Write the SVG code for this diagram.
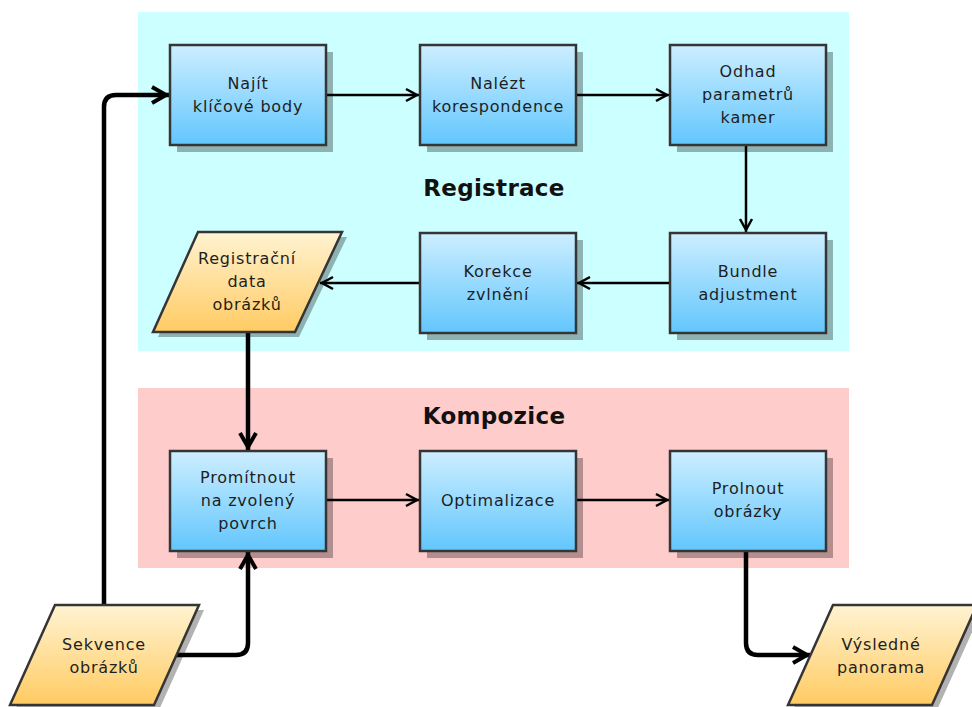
<svg xmlns="http://www.w3.org/2000/svg" width="972" height="707" viewBox="0 0 972 707">
<style>
.box{stroke:#353535;stroke-width:2.5;fill:url(#gb)}
.io{stroke:#353535;stroke-width:2.5;fill:url(#gy)}
.sh{fill:#000;fill-opacity:0.3}
.t{font-family:"DejaVu Sans","Liberation Sans",sans-serif;font-size:16px;letter-spacing:0.8px;fill:#1e1e1e;text-anchor:middle}
.h{font-family:"DejaVu Sans","Liberation Sans",sans-serif;font-size:23px;font-weight:bold;fill:#111;text-anchor:middle;letter-spacing:0.3px}
.c{fill:none;stroke:#000;stroke-width:2.5}
.ct{fill:none;stroke:#000;stroke-width:4.5}
</style>
<defs>
<linearGradient id="gb" x1="0" y1="0" x2="0" y2="1">
<stop offset="0" stop-color="#cdeeff"/>
<stop offset="1" stop-color="#62c6fd"/>
</linearGradient>
<linearGradient id="gy" x1="0" y1="0" x2="0" y2="1">
<stop offset="0" stop-color="#fff3d2"/>
<stop offset="1" stop-color="#ffcb62"/>
</linearGradient>
<marker id="ah" viewBox="-16 -10 22 20" refX="2" refY="0" markerWidth="22" markerHeight="20" orient="auto" markerUnits="userSpaceOnUse" overflow="visible">
<path d="M-11,-6 L0,0 L-11,6" fill="none" stroke="#000" stroke-width="2.5"/>
</marker>
<marker id="ahb" viewBox="-20 -12 28 24" refX="3" refY="0" markerWidth="28" markerHeight="24" orient="auto" markerUnits="userSpaceOnUse" overflow="visible">
<path d="M-14,-8 L0,0 L-14,8" fill="none" stroke="#000" stroke-width="4"/>
</marker>
</defs>
<rect width="972" height="707" fill="#fff"/>
<g id="groups">
<rect x="138" y="12" width="711" height="339" fill="#ccffff"/>
<rect x="138" y="388" width="711" height="180" fill="#ffcccc"/>
<text class="h" x="494" y="196">Registrace</text>
<text class="h" x="494" y="424">Kompozice</text>
</g>
<g id="connectors">
<path class="ct" d="M104 605 V107 Q104 95 116 95 H169" marker-end="url(#ahb)"/>
<path class="ct" d="M176 655 H236 Q248 655 248 643 V552" marker-end="url(#ahb)"/>
<path class="ct" d="M248 332 V450" marker-end="url(#ahb)"/>
<path class="ct" d="M746 551 V643 Q746 655 758 655 H810" marker-end="url(#ahb)"/>
<path class="c" d="M326 95 H419" marker-end="url(#ah)"/>
<path class="c" d="M576 95 H669" marker-end="url(#ah)"/>
<path class="c" d="M746 145 V232" marker-end="url(#ah)"/>
<path class="c" d="M670 283 H577" marker-end="url(#ah)"/>
<path class="c" d="M420 283 H320" marker-end="url(#ah)"/>
<path class="c" d="M326 500 H419" marker-end="url(#ah)"/>
<path class="c" d="M576 500 H669" marker-end="url(#ah)"/>
</g>
<g id="najit">
<rect class="sh" x="177" y="52" width="156" height="100"/>
<rect class="box" x="170" y="45" width="156" height="100"/>
<text class="t" x="248" y="89">Najít</text>
<text class="t" x="248" y="112">klíčové body</text>
</g>
<g id="nalezt">
<rect class="sh" x="427" y="52" width="156" height="100"/>
<rect class="box" x="420" y="45" width="156" height="100"/>
<text class="t" x="498" y="89">Nalézt</text>
<text class="t" x="498" y="112">korespondence</text>
</g>
<g id="odhad">
<rect class="sh" x="677" y="52" width="156" height="100"/>
<rect class="box" x="670" y="45" width="156" height="100"/>
<text class="t" x="748" y="77">Odhad</text>
<text class="t" x="748" y="100">parametrů</text>
<text class="t" x="748" y="123">kamer</text>
</g>
<g id="bundle">
<rect class="sh" x="677" y="240" width="156" height="100"/>
<rect class="box" x="670" y="233" width="156" height="100"/>
<text class="t" x="748" y="277">Bundle</text>
<text class="t" x="748" y="300">adjustment</text>
</g>
<g id="korekce">
<rect class="sh" x="427" y="240" width="156" height="100"/>
<rect class="box" x="420" y="233" width="156" height="100"/>
<text class="t" x="498" y="277">Korekce</text>
<text class="t" x="498" y="300">zvlnění</text>
</g>
<g id="registracni-data">
<polygon class="sh" points="203,237 347,237 299,337 158,337"/>
<polygon class="io" points="198,232 342,232 295,332 153,332"/>
<text class="t" x="247" y="264">Registrační</text>
<text class="t" x="247" y="287">data</text>
<text class="t" x="247" y="310">obrázků</text>
</g>
<g id="promitnout">
<rect class="sh" x="177" y="458" width="156" height="100"/>
<rect class="box" x="170" y="451" width="156" height="100"/>
<text class="t" x="248" y="483">Promítnout</text>
<text class="t" x="248" y="506">na zvolený</text>
<text class="t" x="248" y="529">povrch</text>
</g>
<g id="optimalizace">
<rect class="sh" x="427" y="458" width="156" height="100"/>
<rect class="box" x="420" y="451" width="156" height="100"/>
<text class="t" x="498" y="506">Optimalizace</text>
</g>
<g id="prolnout">
<rect class="sh" x="677" y="458" width="156" height="100"/>
<rect class="box" x="670" y="451" width="156" height="100"/>
<text class="t" x="748" y="494">Prolnout</text>
<text class="t" x="748" y="517">obrázky</text>
</g>
<g id="sekvence">
<polygon class="sh" points="60,610 204,610 159,710 15,710"/>
<polygon class="io" points="55,605 199,605 154,705 10,705"/>
<text class="t" x="104" y="650">Sekvence</text>
<text class="t" x="104" y="673">obrázků</text>
</g>
<g id="vysledne">
<polygon class="sh" points="838,610 982,610 937,710 793,710"/>
<polygon class="io" points="833,605 977,605 932,705 788,705"/>
<text class="t" x="881" y="650">Výsledné</text>
<text class="t" x="881" y="673">panorama</text>
</g>
</svg>
